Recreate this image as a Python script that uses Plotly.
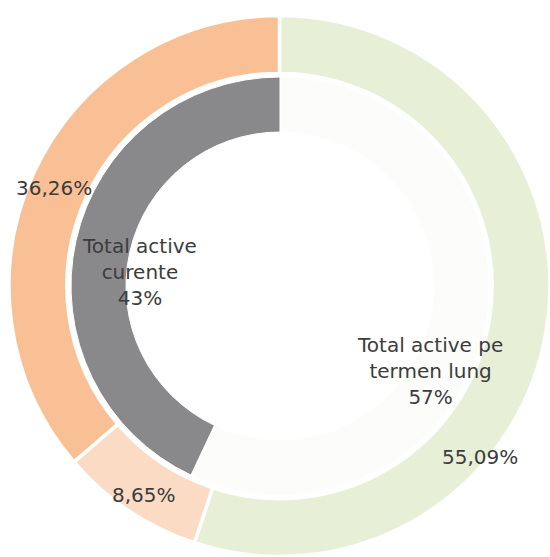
import plotly.graph_objects as go

# ---- data ----
outer_labels = ["Active pe termen lung", "Categoria 2", "Categoria 3"]
outer_values = [55.09, 8.65, 36.26]
inner_labels = ["Total active pe termen lung", "Total active curente"]
inner_values = [57, 43]

# ---- styling ----
outer_colors = ["#E7F0D6", "#FBDBC3", "#F9C096"]
inner_colors = ["#FCFCFB", "#89898B"]
W, H = 550, 557
CX, CY = 280, 286          # pixel centre (from top)
R_OUT, R_IN = 271, 209     # outer radii of the two rings


def dom(r):
    x0 = (CX - r) / W
    x1 = min(1.0, (CX + r) / W)
    yb = H - CY
    y0 = max(0.0, (yb - r) / H)
    y1 = min(1.0, (yb + r) / H)
    return dict(x=[x0, x1], y=[y0, y1])


fig = go.Figure()
fig.add_trace(go.Pie(
    labels=outer_labels, values=outer_values, sort=False, direction="clockwise",
    rotation=0, hole=213 / 271, textinfo="none", hoverinfo="label+percent",
    marker=dict(colors=outer_colors, line=dict(color="white", width=3.5)),
    domain=dom(R_OUT), showlegend=False,
))
fig.add_trace(go.Pie(
    labels=inner_labels, values=inner_values, sort=False, direction="clockwise",
    rotation=0, hole=154 / 209, textinfo="none", hoverinfo="label+percent",
    marker=dict(colors=inner_colors, line=dict(color="#FFFFFF", width=1)),
    domain=dom(R_IN), showlegend=False,
))


def fmt(v):
    return f"{v:.2f}".replace(".", ",") + "%"


font = dict(family="DejaVu Sans, Verdana, sans-serif", size=20, color="#3C3C3C")
label_px = {
    0: (480, 457),
    1: (144, 495),
    2: (54, 188),
}
ann = []
for i, v in enumerate(outer_values):
    px, py = label_px[i]
    ann.append(dict(x=px / W, y=1 - py / H, xref="paper", yref="paper",
                    xanchor="center", yanchor="middle",
                    text=fmt(v), showarrow=False, font=font))
inner_px = [(430, 371), (139, 272)]
inner_text = ["Total active pe<br>termen lung", "Total active<br>curente"]
for (px, py), t, v in zip(inner_px, inner_text, inner_values):
    ann.append(dict(x=px / W, y=1 - py / H, xref="paper", yref="paper",
                    xanchor="center", yanchor="middle",
                    text=f"{t}<br>{v}%", showarrow=False, font=font))

fig.update_layout(
    width=W, height=H, margin=dict(l=0, r=0, t=0, b=0),
    paper_bgcolor="white", plot_bgcolor="white", annotations=ann,
)
fig.write_html("out.html", config={"displayModeBar": False},
               post_script="document.body.style.margin='0';document.body.style.overflow='hidden';")
